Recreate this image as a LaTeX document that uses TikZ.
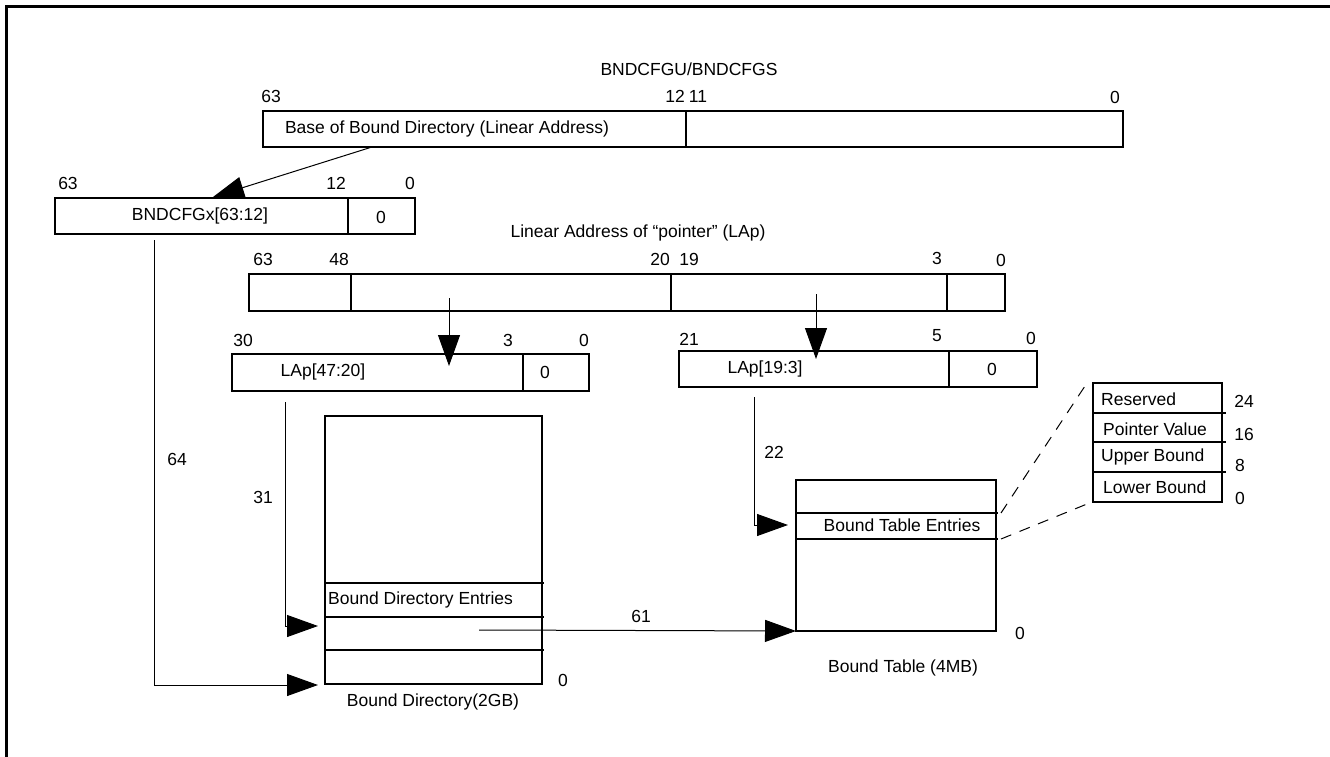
\documentclass[tikz,border=0pt]{standalone}
\usepackage{fontspec}
\setmainfont{Liberation Sans}
\usetikzlibrary{arrows.meta,calc}
\begin{document}
\begin{tikzpicture}[x=1pt,y=-1pt,
  box/.style={draw,line width=2.2pt,inner sep=0pt,outer sep=0pt,anchor=north west},
  lbl/.style={font=\fontsize{17.5}{20}\selectfont,inner sep=0pt},
  conn/.style={line width=1pt},
  arr/.style={line width=1pt,-{Triangle[length=31pt,width=22pt]}},
  dashline/.style={line width=1pt,dash pattern=on 11pt off 9pt},
  tick/.style={line width=2.2pt}]
\useasboundingbox (0,0) rectangle (1330,757);
\draw[line width=2.5pt] (6.5,757) -- (6.5,6.5) -- (1330,6.5);

% ---- BNDCFGU/BNDCFGS register
\node[lbl] (title) at (689,69) {BNDCFGU/BNDCFGS};
\node[box,minimum width=423pt,minimum height=36pt] (baseA) at (263,111) {};
\node[box,minimum width=437pt,minimum height=36pt] (baseB) at (686,111) {};
\node[lbl] (baseT) at (447,129) {Base of Bound Directory (Linear Address)};
\node[lbl] (b63) at (271,96) {63};
\node[lbl] (b12) at (675,96) {12};
\node[lbl] (b11) at (698,96) {11};
\node[lbl] (b0) at (1115,97) {0};

% ---- BNDCFGx
\node[box,minimum width=293pt,minimum height=36pt] (cfgA) at (55,198) {};
\node[box,minimum width=67pt,minimum height=36pt] (cfgB) at (348,198) {};
\node[lbl] (cfgT) at (200,216) {BNDCFGx[63:12]};
\node[lbl] (cfgZ) at (381,217) {0};
\node[lbl] (c63) at (68,183) {63};
\node[lbl] (c12) at (336,183) {12};
\node[lbl] (c0) at (410,183) {0};
\draw[arr] ($(baseA.south west)+(109,0)$) -- ($(cfgA.north west)+(158,-1)$);

% ---- Linear address of pointer
\node[lbl] (lapTitle) at (638,233) {Linear Address of “pointer” (LAp)};
\node[box,minimum width=102pt,minimum height=37pt] (lapA) at (249,274) {};
\node[box,minimum width=320pt,minimum height=37pt] (lapB) at (351,274) {};
\node[box,minimum width=276pt,minimum height=37pt] (lapC) at (671,274) {};
\node[box,minimum width=58pt,minimum height=37pt] (lapD) at (947,274) {};
\node[lbl] (l63) at (263,259) {63};
\node[lbl] (l48) at (339,259) {48};
\node[lbl] (l20) at (660,259) {20};
\node[lbl] (l19) at (689,259) {19};
\node[lbl] (l3) at (937,258) {3};
\node[lbl] (l0) at (1001,260) {0};

% ---- LAp[47:20]
\node[box,minimum width=291pt,minimum height=37pt] (dA) at (232,354) {};
\node[box,minimum width=66pt,minimum height=37pt] (dB) at (523,354) {};
\node[lbl] (dT) at (323,372) {LAp[47:20]};
\node[lbl] (dZ) at (545,372) {0};
\node[lbl] (d30) at (243,340) {30};
\node[lbl] (d3) at (508,340) {3};
\node[lbl] (d0) at (584,340) {0};

% ---- LAp[19:3]
\node[box,minimum width=270pt,minimum height=36pt] (tA) at (679,351) {};
\node[box,minimum width=88pt,minimum height=36pt] (tB) at (949,351) {};
\node[lbl] (tT) at (765,369) {LAp[19:3]};
\node[lbl] (tZ) at (992,369) {0};
\node[lbl] (t21) at (689,339) {21};
\node[lbl] (t5) at (937,336) {5};
\node[lbl] (t0) at (1031,338) {0};

\coordinate (s1) at (449,298);
\coordinate (s2) at (816,294);
\draw[arr] (s1) -- (s1 |- 0,366);
\draw[arr] (s2) -- (s2 |- 0,359);

% ---- Bound Directory
\node[box,minimum width=217pt,minimum height=268pt] (bd) at (325,416) {};
\draw[tick] (bd.west |- 0,583) coordinate (bd1) -- ++(219,0);
\draw[tick] (bd.west |- 0,617) coordinate (bd2) -- ++(219,0);
\draw[tick] (bd.west |- 0,650) coordinate (bd3) -- ++(219,0);
\node[lbl,anchor=west] (bdE) at (328,600) {Bound Directory Entries};
\node[lbl] (bdT) at (433,702) {Bound Directory(2GB)};
\node[lbl] (bd0) at (563,680) {0};

% ---- Bound Table
\node[box,minimum width=200pt,minimum height=151pt] (bt) at (796,480) {};
\draw[tick] (bt.west |- 0,513) coordinate (bt1) -- ++(202,0);
\draw[tick] (bt.west |- 0,539) coordinate (bt2) -- ++(202,0);
\node[lbl] (btE) at (902,525) {Bound Table Entries};
\node[lbl] (btT) at (903,668) {Bound Table (4MB)};
\node[lbl] (bt0) at (1020,633) {0};

% ---- Entry layout
\node[box,minimum width=129pt,minimum height=30pt] (eR) at (1093,383) {};
\node[box,minimum width=129pt,minimum height=29pt] (eP) at (1093,413) {};
\node[box,minimum width=129pt,minimum height=30pt] (eU) at (1093,442) {};
\node[box,minimum width=129pt,minimum height=30pt] (eL) at (1093,472) {};
\draw[tick] (eP.north east) -- ++(4,0);
\draw[tick] (eU.north east) -- ++(4,0);
\draw[tick] (eL.north east) -- ++(4,0);
\node[lbl,anchor=west] (eRt) at (1101,399) {Reserved};
\node[lbl,anchor=west] (ePt) at (1103,429) {Pointer Value};
\node[lbl,anchor=west] (eUt) at (1101,457) {Upper Bound};
\node[lbl,anchor=west] (eLt) at (1103,487) {Lower Bound};
\node[lbl] (n24) at (1244,401) {24};
\node[lbl] (n16) at (1244,434) {16};
\node[lbl] (n8) at (1240,465) {8};
\node[lbl] (n0) at (1240,498) {0};
\draw[dashline] ($(bt1)+(205,0)$) -- ($(eR.north west)+(-8,3)$);
\draw[dashline] ($(bt2)+(205,0)$) -- ($(eL.south west)+(-6,2)$);

% ---- connectors
\coordinate (c64) at (154,240);
\draw[arr] (c64) -- (154,685) -- ($(bd.west |- 0,685)+(-7,0)$);
\node[lbl] (l64) at (177,459) {64};
\coordinate (c31) at (285,402);
\draw[arr] (c31) -- (285,626) -- ($(bd2)+(-7,9)$);
\node[lbl] (l31) at (263,497) {31};
\coordinate (c22) at (754,397);
\draw[arr] (c22) -- (754,525) -- ($(bt.west |- 0,525)+(-8,0)$);
\node[lbl] (l22) at (774,452) {22};
\coordinate (c61) at (479,630);
\draw[arr] (c61) -- (bt.south west);
\node[lbl] (l61) at (641,616) {61};
\end{tikzpicture}
\end{document}
